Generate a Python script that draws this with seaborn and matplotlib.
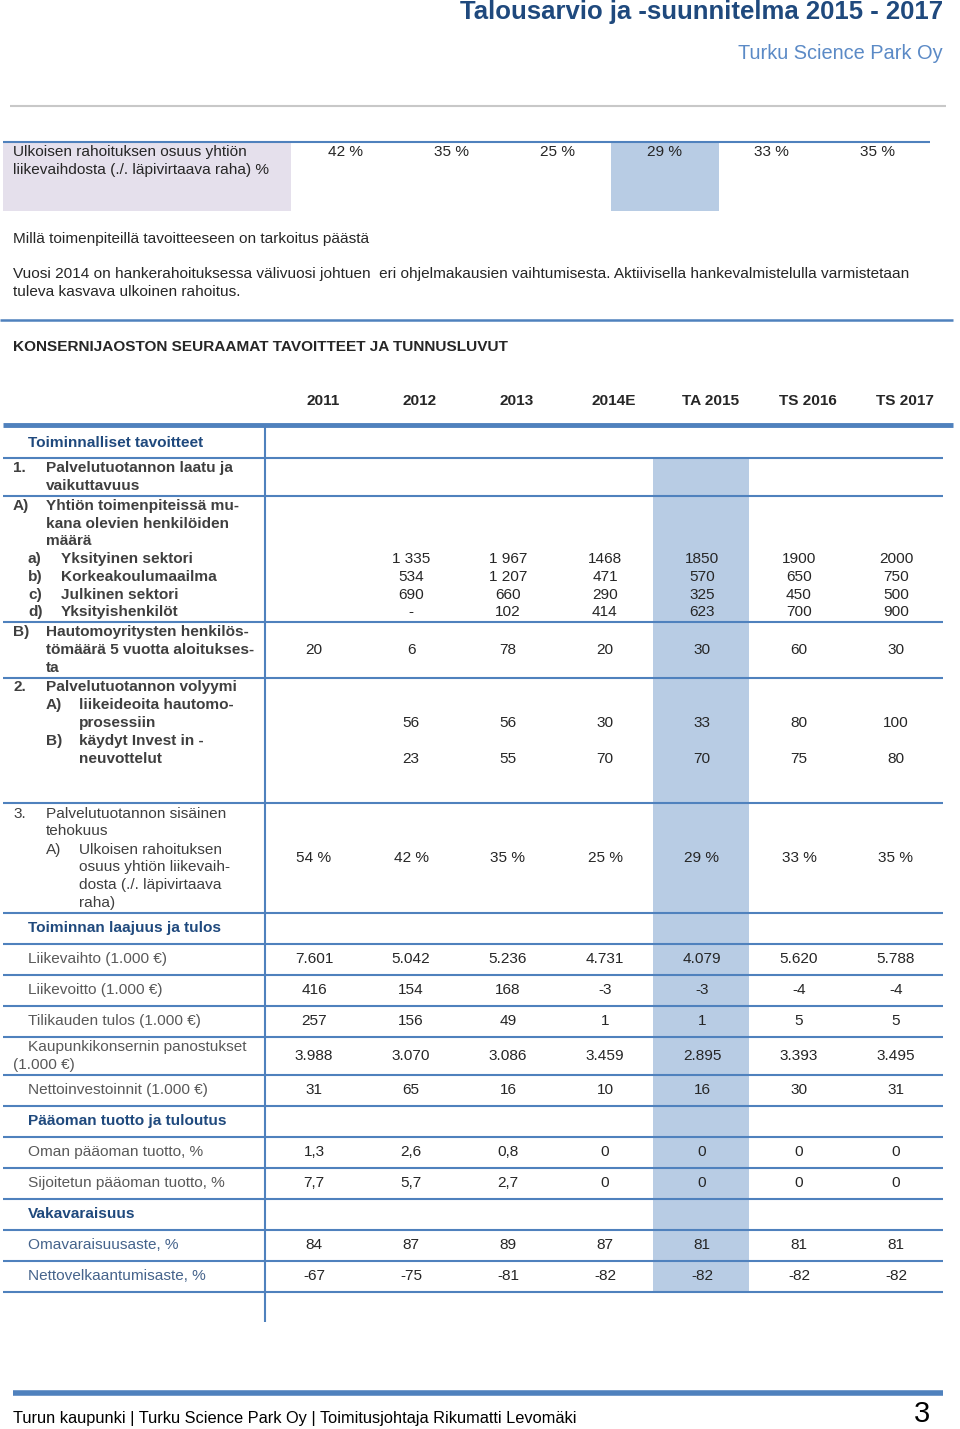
import matplotlib.pyplot as plt
from matplotlib.patches import Rectangle
import seaborn as sns

# --- data ---
TITLE = "Talousarvio ja -suunnitelma 2015 - 2017"
SUBTITLE = "Turku Science Park Oy"
YEARS = ["2011", "2012", "2013", "2014E", "TA 2015", "TS 2016", "TS 2017"]

TOP_LABEL = ["Ulkoisen rahoituksen osuus yhtiön", "liikevaihdosta (./. läpivirtaava raha) %"]
TOP_SHARE = ["42 %", "35 %", "25 %", "29 %", "33 %", "35 %"]

yksityinen = ["", "1 335", "1 967", "1468", "1850", "1900", "2000"]
korkeakoulu = ["", "534", "1 207", "471", "570", "650", "750"]
julkinen = ["", "690", "660", "290", "325", "450", "500"]
yksityishenkilot = ["", "-", "102", "414", "623", "700", "900"]
hautomo_henkilosto = ["20", "6", "78", "20", "30", "60", "30"]
liikeideoita = ["", "56", "56", "30", "33", "80", "100"]
invest_in = ["", "23", "55", "70", "70", "75", "80"]
ulkoinen_osuus = ["54 %", "42 %", "35 %", "25 %", "29 %", "33 %", "35 %"]

liikevaihto = ["7.601", "5.042", "5.236", "4.731", "4.079", "5.620", "5.788"]
liikevoitto = ["416", "154", "168", "-3", "-3", "-4", "-4"]
tilikauden_tulos = ["257", "156", "49", "1", "1", "5", "5"]
panostukset = ["3.988", "3.070", "3.086", "3.459", "2.895", "3.393", "3.495"]
nettoinvestoinnit = ["31", "65", "16", "10", "16", "30", "31"]
oman_paaoman = ["1,3", "2,6", "0,8", "0", "0", "0", "0"]
sijoitetun_paaoman = ["7,7", "5,7", "2,7", "0", "0", "0", "0"]
omavaraisuus = ["84", "87", "89", "87", "81", "81", "81"]
nettovelka = ["-67", "-75", "-81", "-82", "-82", "-82", "-82"]

sns.set_theme(style="white")
plt.rcParams["font.family"] = ["Liberation Sans", "DejaVu Sans"]

BLUE = "#4f81bd"
DARKBLUE = "#1f497d"
HILITE = "#b8cce4"
LAVENDER = "#e5e0ec"
GRAYTXT = "#595959"
BOLDTXT = "#3f3f3f"
FS = 11.1

fig = plt.figure(figsize=(9.6, 14.29), dpi=100)
ax = fig.add_axes([0, 0, 1, 1])
ax.set_xlim(0, 960)
ax.set_ylim(1429, 0)
ax.axis("off")


def txt(x, y, s, **kw):
    kw.setdefault("fontsize", FS)
    kw.setdefault("va", "center")
    ax.text(x, y, s, **kw)


def row_values(y, vals, x0=314, step=97, **kw):
    for i, v in enumerate(vals):
        if v:
            txt(x0 + step * i, y, v, ha="center", **kw)


# header
txt(943, 12, TITLE, ha="right", fontsize=18.5, fontweight="bold", color=DARKBLUE)
txt(943, 53, SUBTITLE, ha="right", fontsize=14.4, color="#5b8ac6")
ax.hlines(106, 10, 946, color="#c8c8c8", lw=1.5)

# top block
ax.add_patch(Rectangle((3, 143), 288, 68, color=LAVENDER, lw=0))
ax.add_patch(Rectangle((611, 143), 108, 68, color=HILITE, lw=0))
ax.hlines(142, 3, 930, color=BLUE, lw=1.5)
txt(13, 152, TOP_LABEL[0])
txt(13, 170, TOP_LABEL[1])
for i, v in enumerate(TOP_SHARE):
    txt(345 + 106.5 * i, 152, v, ha="center")

txt(13, 239, "Millä toimenpiteillä tavoitteeseen on tarkoitus päästä")
txt(13, 274, "Vuosi 2014 on hankerahoituksessa välivuosi johtuen  eri ohjelmakausien "
             "vaihtumisesta. Aktiivisella hankevalmistelulla varmistetaan")
txt(13, 292, "tuleva kasvava ulkoinen rahoitus.")
ax.hlines(320, 0, 953, color=BLUE, lw=1.8)
txt(13, 347, "KONSERNIJAOSTON SEURAAMAT TAVOITTEET JA TUNNUSLUVUT", fontweight="bold")

# table header
for i, y in enumerate(YEARS):
    txt(323 + 97 * i, 401, y, ha="center", fontweight="bold")
ax.hlines(425, 3, 953, color=BLUE, lw=3.5)

# highlighted TA 2015 column and frame lines
ax.add_patch(Rectangle((653, 458), 96, 834, color=HILITE, lw=0))
ax.vlines(265, 425, 1322, color=BLUE, lw=1.5)
for y in [458, 496, 622, 678, 803, 913, 944, 975, 1006, 1037, 1075,
          1106, 1137, 1168, 1199, 1230, 1261, 1292]:
    ax.hlines(y, 3, 943, color=BLUE, lw=1.5)

# section 1 (bold labels)
b = dict(fontweight="bold", color=BOLDTXT)
txt(28, 443, "Toiminnalliset tavoitteet", fontweight="bold", color=DARKBLUE)
txt(13, 468, "1.", **b)
txt(46, 468, "Palvelutuotannon laatu ja", **b)
txt(46, 486, "vaikuttavuus", **b)
txt(13, 506, "A)", **b)
txt(46, 506, "Yhtiön toimenpiteissä mu-", **b)
txt(46, 524, "kana olevien henkilöiden", **b)
txt(46, 541, "määrä", **b)
for y, lab, name, vals in [(559, "a)", "Yksityinen sektori", yksityinen),
                           (577, "b)", "Korkeakoulumaailma", korkeakoulu),
                           (595, "c)", "Julkinen sektori", julkinen),
                           (612, "d)", "Yksityishenkilöt", yksityishenkilot)]:
    txt(28, y, lab, **b)
    txt(61, y, name, **b)
    row_values(y, vals)
txt(13, 632, "B)", **b)
txt(46, 632, "Hautomoyritysten henkilös-", **b)
txt(46, 650, "tömäärä 5 vuotta aloitukses-", **b)
txt(46, 668, "ta", **b)
row_values(650, hautomo_henkilosto)
txt(13, 687, "2.", **b)
txt(46, 687, "Palvelutuotannon volyymi", **b)
txt(46, 705, "A)", **b)
txt(79, 705, "liikeideoita hautomo-", **b)
txt(79, 723, "prosessiin", **b)
row_values(723, liikeideoita)
txt(46, 741, "B)", **b)
txt(79, 741, "käydyt Invest in -", **b)
txt(79, 759, "neuvottelut", **b)
row_values(759, invest_in)

# section 3
g = dict(color=BOLDTXT)
txt(13, 814, "3.", **g)
txt(46, 814, "Palvelutuotannon sisäinen", **g)
txt(46, 831, "tehokuus", **g)
txt(46, 850, "A)", **g)
txt(79, 850, "Ulkoisen rahoituksen", **g)
txt(79, 867, "osuus yhtiön liikevaih-", **g)
txt(79, 885, "dosta (./. läpivirtaava", **g)
txt(79, 903, "raha)", **g)
row_values(858, ulkoinen_osuus)

# lower sections
txt(28, 928, "Toiminnan laajuus ja tulos", fontweight="bold", color=DARKBLUE)
for y, name, vals in [(959, "Liikevaihto (1.000 €)", liikevaihto),
                      (990, "Liikevoitto (1.000 €)", liikevoitto),
                      (1021, "Tilikauden tulos (1.000 €)", tilikauden_tulos),
                      (1090, "Nettoinvestoinnit (1.000 €)", nettoinvestoinnit)]:
    txt(28, y, name, color=GRAYTXT)
    row_values(y, vals)
txt(28, 1047, "Kaupunkikonsernin panostukset", color=GRAYTXT)
txt(13, 1065, "(1.000 €)", color=GRAYTXT)
row_values(1056, panostukset)

txt(28, 1121, "Pääoman tuotto ja tuloutus", fontweight="bold", color=DARKBLUE)
txt(28, 1152, "Oman pääoman tuotto, %", color=GRAYTXT)
row_values(1152, oman_paaoman)
txt(28, 1183, "Sijoitetun pääoman tuotto, %", color=GRAYTXT)
row_values(1183, sijoitetun_paaoman)

txt(28, 1214, "Vakavaraisuus", fontweight="bold", color=DARKBLUE)
txt(28, 1245, "Omavaraisuusaste, %", color="#46648c")
row_values(1245, omavaraisuus)
txt(28, 1276, "Nettovelkaantumisaste, %", color="#46648c")
row_values(1276, nettovelka)

# footer
ax.hlines(1393, 13, 943, color=BLUE, lw=4)
txt(13, 1418, "Turun kaupunki | Turku Science Park Oy | Toimitusjohtaja Rikumatti Levomäki",
    fontsize=11.8, color="black")
txt(930, 1414, "3", ha="right", fontsize=21, color="black")

fig.savefig("out.png", dpi=100)
